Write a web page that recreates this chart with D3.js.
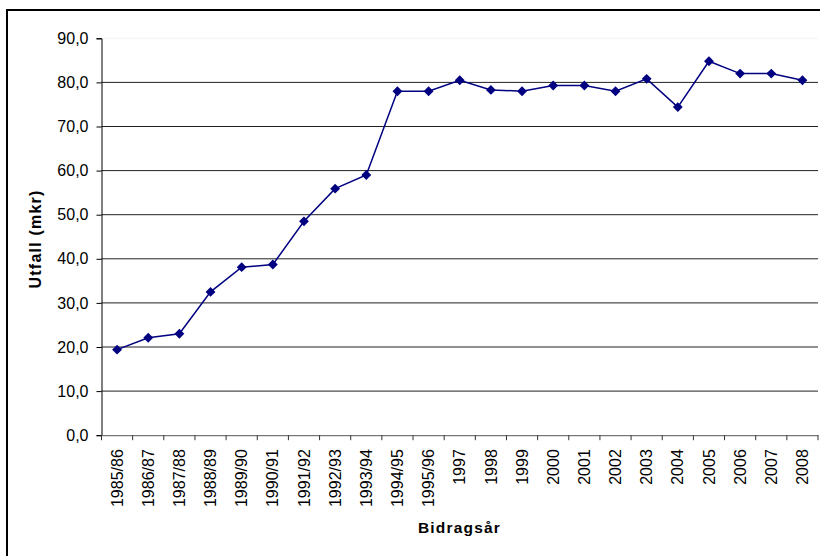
<!DOCTYPE html>
<html>
<head>
<meta charset="utf-8">
<script src="https://cdn.jsdelivr.net/npm/d3@7"></script>
<style>
  html, body { margin: 0; padding: 0; background: #fff; }
  svg { display: block; }
  text { font-family: "Liberation Sans", Arial, sans-serif; fill: #000; }
</style>
</head>
<body>
<svg id="chart" width="820" height="556"></svg>
<script>
const categories = ["1985/86","1986/87","1987/88","1988/89","1989/90","1990/91","1991/92","1992/93","1993/94","1994/95","1995/96","1997","1998","1999","2000","2001","2002","2003","2004","2005","2006","2007","2008"];
const values = [19.4, 22.1, 23.0, 32.5, 38.1, 38.7, 48.5, 55.9, 59.0, 78.0, 78.0, 80.5, 78.3, 78.0, 79.3, 79.3, 78.0, 80.8, 74.4, 84.8, 82.0, 82.0, 80.5];
const yTicks = [0, 10, 20, 30, 40, 50, 60, 70, 80, 90];
const yTitle = "Utfall (mkr)";
const xTitle = "Bidragsår";

const svg = d3.select("#chart");
const plotL = 101.5, plotR = 818, plotT = 38.3, plotB = 435.2;

// outer border
svg.append("rect").attr("x", 7).attr("y", 10).attr("width", 830).attr("height", 560)
  .attr("fill", "none").attr("stroke", "#000").attr("stroke-width", 2);

const x = d3.scaleBand().domain(categories).range([plotL, plotR]);
const y = d3.scaleLinear().domain([0, 90]).range([plotB, plotT]);

// plot area faint border
svg.append("line").attr("x1", plotL).attr("x2", plotR).attr("y1", plotT).attr("y2", plotT)
  .attr("stroke", "#f2f2f2");

// gridlines
svg.append("g").selectAll("line").data(yTicks.filter(d => d > 0 && d < 90)).join("line")
  .attr("x1", plotL).attr("x2", plotR).attr("y1", d => y(d)).attr("y2", d => y(d))
  .attr("stroke", "#222").attr("stroke-width", 1);

// y axis
const yAxis = d3.axisLeft(y).tickValues(yTicks).tickSize(5).tickPadding(8)
  .tickFormat(d => d3.format(".1f")(d).replace(".", ","));
const gy = svg.append("g").attr("transform", `translate(${plotL},0)`).call(yAxis);
gy.select(".domain").attr("stroke", "#000");
gy.selectAll(".tick line").attr("stroke", "#000");
gy.selectAll("text").attr("font-size", 16).attr("font-family", "Liberation Sans, Arial, sans-serif");

// x axis
const xAxis = d3.axisBottom(x).tickSize(0).tickSizeOuter(0);
const gx = svg.append("g").attr("transform", `translate(0,${plotB})`).call(xAxis);
gx.select(".domain").attr("stroke", "#555");
gx.selectAll(".tick text")
  .attr("font-size", 16).attr("font-family", "Liberation Sans, Arial, sans-serif")
  .attr("text-anchor", "end")
  .attr("transform", "rotate(-90)")
  .attr("x", -14).attr("y", 0).attr("dy", "0.35em");
// category boundary ticks
const bounds = categories.map(c => x(c)).concat([x(categories[categories.length - 1]) + x.bandwidth()]);
svg.append("g").selectAll("line").data(bounds).join("line")
  .attr("x1", d => d).attr("x2", d => d).attr("y1", plotB).attr("y2", plotB + 5)
  .attr("stroke", "#333");

// line
const cx = c => x(c) + x.bandwidth() / 2;
const data = categories.map((c, i) => ({ c, v: values[i] }));
svg.append("path").datum(data)
  .attr("d", d3.line().x(d => cx(d.c)).y(d => y(d.v)))
  .attr("fill", "none").attr("stroke", "#000080").attr("stroke-width", 1.5);

// markers
svg.append("g").selectAll("path").data(data).join("path")
  .attr("d", d3.symbol().type(d3.symbolDiamond2 || d3.symbolDiamond).size(62))
  .attr("transform", d => `translate(${cx(d.c)},${y(d.v)})`)
  .attr("fill", "#000080");

// titles
svg.append("text").attr("transform", "translate(41,239) rotate(-90)")
  .attr("text-anchor", "middle").attr("font-weight", "bold").attr("font-size", 16)
  .attr("letter-spacing", 1.2).text(yTitle);
svg.append("text").attr("x", 459.5).attr("y", 533)
  .attr("text-anchor", "middle").attr("font-weight", "bold").attr("font-size", 15.5)
  .attr("letter-spacing", 1.2).text(xTitle);
</script>
</body>
</html>
